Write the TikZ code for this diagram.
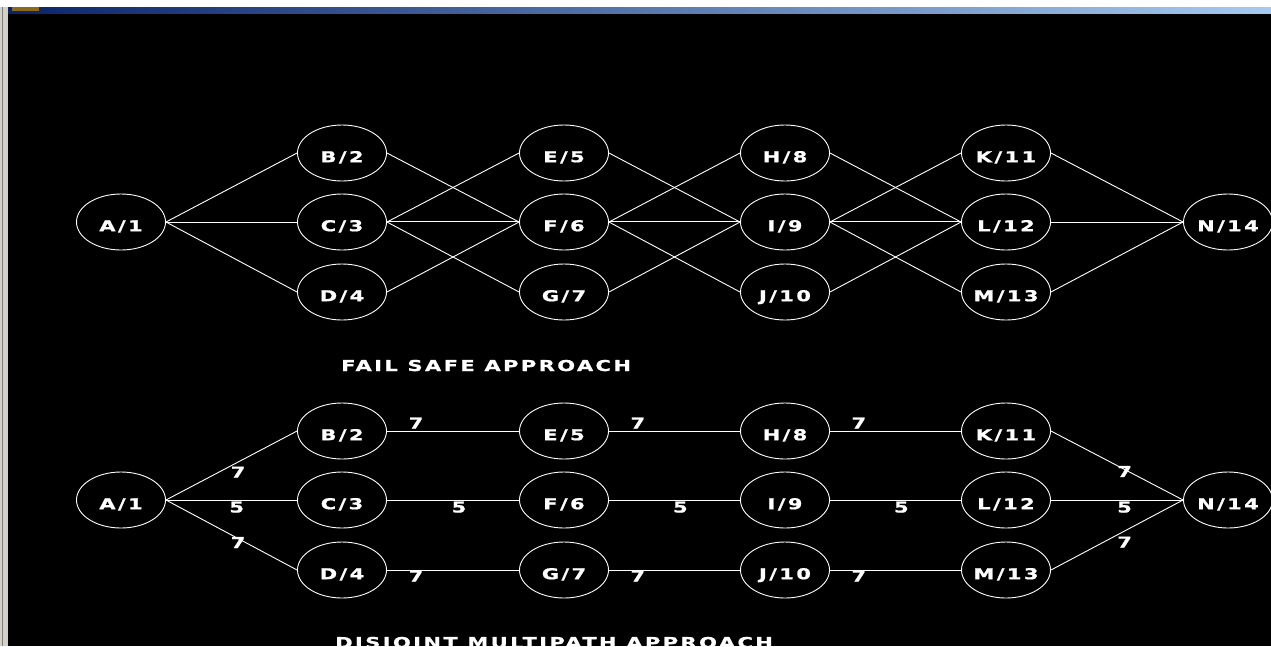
\documentclass[tikz,border=0pt]{standalone}
\usepackage{fontspec}
\usetikzlibrary{shapes.geometric}
\newfontfamily\pixfont{DejaVu Sans}[FakeStretch=1.4,FakeBold=1,LetterSpace=16]
\definecolor{winblue}{HTML}{0A246A}
\definecolor{winsky}{HTML}{A6CAF0}
\definecolor{wingray}{HTML}{D4D0C8}
\definecolor{winicon}{HTML}{8C6A1C}
\tikzset{
  site/.style={draw=white, ellipse, line width=0.9pt, minimum width=89pt, minimum height=56pt,
    inner xsep=-15pt, inner ysep=0pt, text=white, font=\pixfont\bfseries\fontsize{15}{15}\selectfont,
    text height=18.4pt, text depth=0pt},
  link/.style={draw=white, line width=0.9pt},
  twin/.style={draw=white, double=black, double distance=0.6pt, line width=0.7pt},
  cost/.style={text=white, inner sep=0pt, font=\pixfont\bfseries\fontsize{15}{15}\selectfont,
    text height=11pt, text depth=0pt},
  title/.style={text=white, inner sep=0pt, anchor=base west,
    font=\pixfont\bfseries\fontsize{15}{15}\selectfont}
}
\begin{document}
\begin{tikzpicture}[x=1pt,y=-1pt]
    \useasboundingbox (0,0) rectangle (1271,646);
    % window frame
    \fill[white] (0,0) rectangle (1271,646);
    \shade[left color=winblue, right color=winsky] (7.5,7) rectangle (1271,13);
    \fill[winicon] (12,7) rectangle (39,11);
    \fill[wingray] (0,7) rectangle (7.5,646);
    \draw[gray] (2.5,7) -- (2.5,646);
    \fill[black] (7.5,13.5) rectangle (1271,646);
    % fail safe approach
    \node[site] (tA) at (121,222) {A/1};
    \node[site] (tB) at (342,153) {B/2};
    \node[site] (tC) at (342,222) {C/3};
    \node[site] (tD) at (342,292) {D/4};
    \node[site] (tE) at (564,153) {E/5};
    \node[site] (tF) at (564,222) {F/6};
    \node[site] (tG) at (564,292) {G/7};
    \node[site] (tH) at (785,153) {H/8};
    \node[site] (tI) at (785,222) {I/9};
    \node[site] (tJ) at (785,292) {J/10};
    \node[site] (tK) at (1006,153) {K/11};
    \node[site] (tL) at (1006,222) {L/12};
    \node[site] (tM) at (1006,292) {M/13};
    \node[site] (tN) at (1228,222) {N/14};
    \draw[link] (tA.east) -- (tB.west);
    \draw[link] (tA.east) -- (tC.west);
    \draw[link] (tA.east) -- (tD.west);
    \draw[link] (tB.east) -- (tF.west);
    \draw[link] (tC.east) -- (tE.west);
    \draw[twin] (tC.east) -- (tF.west);
    \draw[link] (tC.east) -- (tG.west);
    \draw[link] (tD.east) -- (tF.west);
    \draw[link] (tE.east) -- (tI.west);
    \draw[link] (tF.east) -- (tH.west);
    \draw[twin] (tF.east) -- (tI.west);
    \draw[link] (tF.east) -- (tJ.west);
    \draw[link] (tG.east) -- (tI.west);
    \draw[link] (tH.east) -- (tL.west);
    \draw[link] (tI.east) -- (tK.west);
    \draw[twin] (tI.east) -- (tL.west);
    \draw[link] (tI.east) -- (tM.west);
    \draw[link] (tJ.east) -- (tL.west);
    \draw[link] (tK.east) -- (tN.west);
    \draw[link] (tL.east) -- (tN.west);
    \draw[link] (tM.east) -- (tN.west);
    \node[title] (fs) at (341,371) {FAIL SAFE APPROACH};
    % disjoint multipath approach
    \node[site] (bA) at (121,500) {A/1};
    \node[site] (bB) at (342,431) {B/2};
    \node[site] (bC) at (342,500) {C/3};
    \node[site] (bD) at (342,570) {D/4};
    \node[site] (bE) at (564,431) {E/5};
    \node[site] (bF) at (564,500) {F/6};
    \node[site] (bG) at (564,570) {G/7};
    \node[site] (bH) at (785,431) {H/8};
    \node[site] (bI) at (785,500) {I/9};
    \node[site] (bJ) at (785,570) {J/10};
    \node[site] (bK) at (1006,431) {K/11};
    \node[site] (bL) at (1006,500) {L/12};
    \node[site] (bM) at (1006,570) {M/13};
    \node[site] (bN) at (1228,500) {N/14};
    \draw[link] (bA.east) -- node[cost,pos=.55,yshift=-10pt] (cAB) {7} (bB.west);
    \draw[link] (bA.east) -- node[cost,pos=.54,yshift=-7pt] (cAC) {5} (bC.west);
    \draw[link] (bA.east) -- node[cost,pos=.55,yshift=-4pt] (cAD) {7} (bD.west);
    \draw[link] (bB.east) -- node[cost,pos=.22,yshift=8pt] (cBE) {7} (bE.west);
    \draw[link] (bC.east) -- node[cost,pos=.545,yshift=-7pt] (cCF) {5} (bF.west);
    \draw[link] (bD.east) -- node[cost,pos=.22,yshift=-6pt] (cDG) {7} (bG.west);
    \draw[link] (bE.east) -- node[cost,pos=.22,yshift=8pt] (cEH) {7} (bH.west);
    \draw[link] (bF.east) -- node[cost,pos=.545,yshift=-7pt] (cFI) {5} (bI.west);
    \draw[link] (bG.east) -- node[cost,pos=.22,yshift=-6pt] (cGJ) {7} (bJ.west);
    \draw[link] (bH.east) -- node[cost,pos=.22,yshift=8pt] (cHK) {7} (bK.west);
    \draw[link] (bI.east) -- node[cost,pos=.545,yshift=-7pt] (cIL) {5} (bL.west);
    \draw[link] (bJ.east) -- node[cost,pos=.22,yshift=-6pt] (cJM) {7} (bM.west);
    \draw[link] (bK.east) -- node[cost,pos=.557,yshift=-2pt] (cKN) {7} (bN.west);
    \draw[link] (bL.east) -- node[cost,pos=.557,yshift=-7pt] (cLN) {5} (bN.west);
    \draw[link] (bM.east) -- node[cost,pos=.557,yshift=-11pt] (cMN) {7} (bN.west);
    \node[title] (dm) at (335,648) {DISJOINT MULTIPATH APPROACH};
\end{tikzpicture}
\end{document}
